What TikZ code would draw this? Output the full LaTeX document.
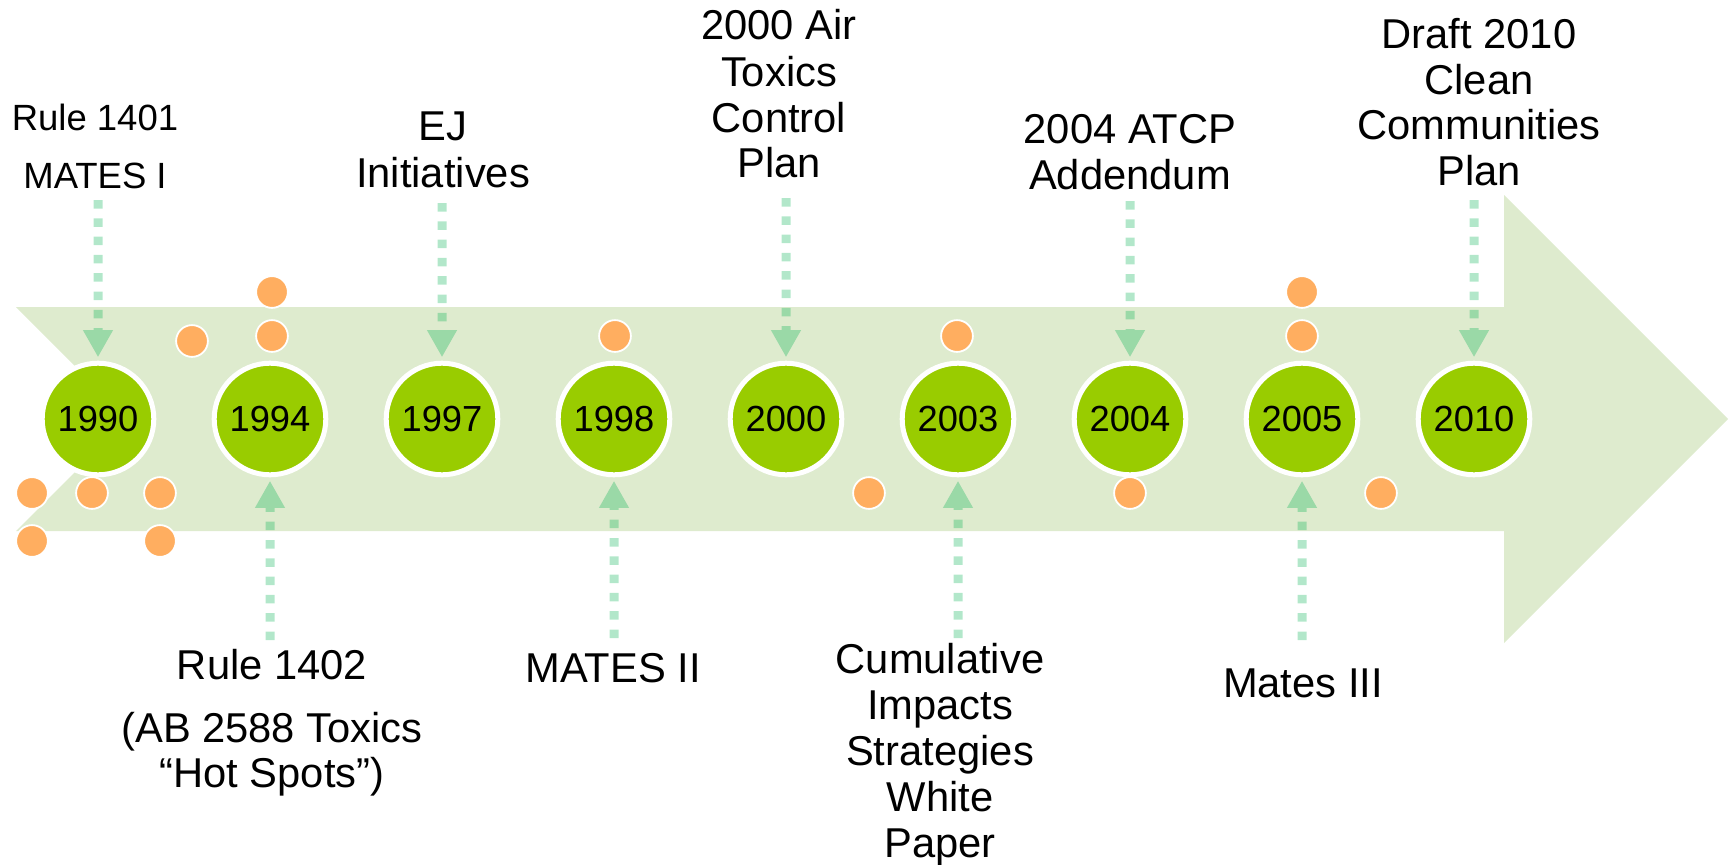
\documentclass[tikz,border=0pt]{standalone}
\usepackage{fontspec}
\setmainfont{Liberation Sans}
\usetikzlibrary{arrows.meta}
\definecolor{bandgreen}{RGB}{222,235,206}
\definecolor{yeargreen}{RGB}{153,204,0}
\definecolor{dotorange}{RGB}{255,174,96}
\definecolor{mint}{RGB}{0,176,80}
\tikzset{
  year/.style={circle, fill=yeargreen, draw=white, line width=5pt, minimum size=111.6pt, inner sep=0pt, font=\fontsize{36.3}{40}\selectfont},
  dot/.style={circle, fill=dotorange, draw=white, line width=1.8pt, minimum size=31.8pt, inner sep=0pt},
  lbl/.style={anchor=base, inner sep=0pt, font=\fontsize{41.7}{46}\selectfont},
  lblsmall/.style={anchor=base, inner sep=0pt, font=\fontsize{36.5}{40}\selectfont},
  dasharrow/.style={draw=mint, line width=9pt, dash pattern=on 8.5pt off 9.8pt, -{Triangle[width=28pt,length=27pt]}, shorten >=3.5pt},
}
\begin{document}
\begin{tikzpicture}[x=1pt,y=-1pt]
\useasboundingbox (0,0) rectangle (1733,865);
% big arrow band
\fill[bandgreen] (16,307) -- (1504,307) -- (1504,195) -- (1728,419) -- (1504,643) -- (1504,531) -- (16,531) -- (128,419) -- cycle;
% orange dots
\node[dot] (d1) at (32,493) {};
\node[dot] (d2) at (92,493) {};
\node[dot] (d3) at (160,493) {};
\node[dot] (d4) at (32,541) {};
\node[dot] (d5) at (160,541) {};
\node[dot] (d6) at (192,341) {};
\node[dot] (d7) at (272,292) {};
\node[dot] (d8) at (272,336) {};
\node[dot] (d9) at (615,336) {};
\node[dot] (d10) at (957,336) {};
\node[dot] (d11) at (1302,292) {};
\node[dot] (d12) at (1302,336) {};
\node[dot] (d13) at (869,493) {};
\node[dot] (d14) at (1130,493) {};
\node[dot] (d15) at (1381,493) {};
% year circles
\node[year] (c1990) at (98,419) {1990};
\node[year] (c1994) at (270,419) {1994};
\node[year] (c1997) at (442,419) {1997};
\node[year] (c1998) at (614,419) {1998};
\node[year] (c2000) at (786,419) {2000};
\node[year] (c2003) at (958,419) {2003};
\node[year] (c2004) at (1130,419) {2004};
\node[year] (c2005) at (1302,419) {2005};
\node[year] (c2010) at (1474,419) {2010};
% arrow start points
\coordinate (t1990) at (98,200);
\coordinate (t1997) at (442,203);
\coordinate (t2000) at (786,198);
\coordinate (t2004) at (1130,201);
\coordinate (t2010) at (1474,200);
\coordinate (b1994) at (270,640);
\coordinate (b1998) at (614,638);
\coordinate (b2003) at (958,638);
\coordinate (b2005) at (1302,640);
\begin{scope}[transparency group, opacity=0.3]
\draw[dasharrow] (t1990) -- (c1990.north);
\draw[dasharrow] (t1997) -- (c1997.north);
\draw[dasharrow] (t2000) -- (c2000.north);
\draw[dasharrow] (t2004) -- (c2004.north);
\draw[dasharrow] (t2010) -- (c2010.north);
\draw[dasharrow] (b1994) -- (c1994.south);
\draw[dasharrow] (b1998) -- (c1998.south);
\draw[dasharrow] (b2003) -- (c2003.south);
\draw[dasharrow] (b2005) -- (c2005.south);
\end{scope}
% top labels
\node[lblsmall] (l1990a) at (95,130) {Rule 1401};
\node[lblsmall] (l1990b) at (95,188) {MATES I};
\node[lbl] (l1997a) at (443,140) {EJ};
\node[lbl] (l1997b) at (443,187) {Initiatives};
\node[lbl] (l2000a) at (779,39) {2000 Air};
\node[lbl] (l2000b) at (779,86) {Toxics};
\node[lbl] (l2000c) at (779,132) {Control};
\node[lbl] (l2000d) at (779,177) {Plan};
\node[lbl] (l2004a) at (1130,143) {2004 ATCP};
\node[lbl] (l2004b) at (1130,189) {Addendum};
\node[lbl] (l2010a) at (1479,48) {Draft 2010};
\node[lbl] (l2010b) at (1479,94) {Clean};
\node[lbl] (l2010c) at (1479,139.5) {Communities};
\node[lbl] (l2010d) at (1479,185.5) {Plan};
% bottom labels
\node[lbl] (l1994a) at (272,679) {Rule 1402};
\node[lbl] (l1994b) at (272,742) {(AB 2588 Toxics};
\node[lbl] (l1994c) at (272,787) {“Hot Spots”)};
\node[lbl] (l1998a) at (613,682) {MATES II};
\node[lbl] (l2003a) at (940,673) {Cumulative};
\node[lbl] (l2003b) at (940,719) {Impacts};
\node[lbl] (l2003c) at (940,765) {Strategies};
\node[lbl] (l2003d) at (940,811) {White};
\node[lbl] (l2003e) at (940,857) {Paper};
\node[lbl] (l2005a) at (1303,697) {Mates III};
\end{tikzpicture}
\end{document}
